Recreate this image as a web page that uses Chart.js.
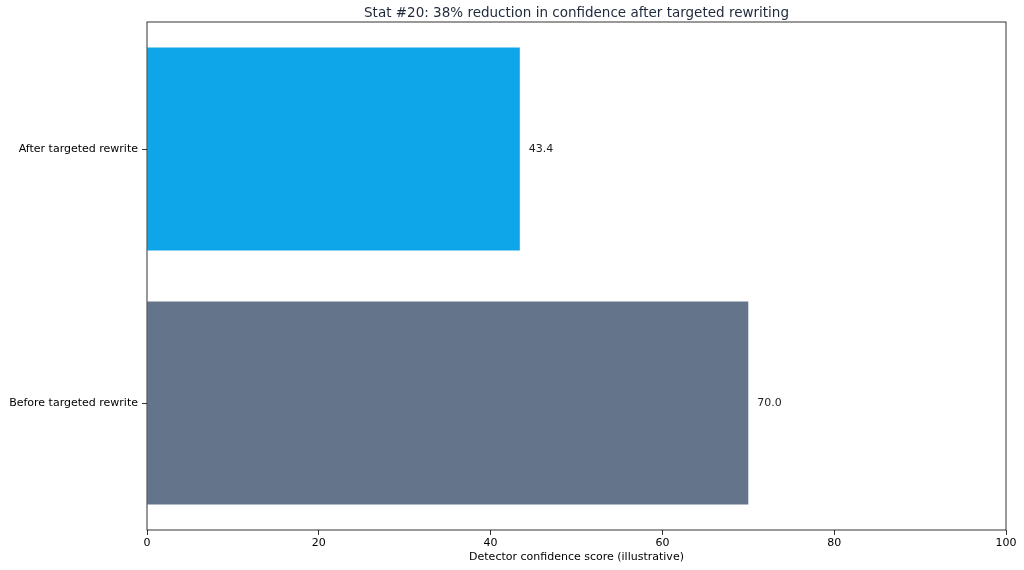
<!DOCTYPE html>
<html>
<head>
<meta charset="utf-8">
<script src="https://cdn.jsdelivr.net/npm/chart.js@4"></script>
<style>
  html, body { margin: 0; padding: 0; background: #fff; }
  #wrap { width: 1024px; height: 570px; }
</style>
</head>
<body>
<div id="wrap"><canvas id="myChart"></canvas></div>
<script>
const categories = ["After targeted rewrite", "Before targeted rewrite"];
const scores = [43.4, 70.0];
const barColors = ["#0ea5e9", "#64748b"];
const xTicks = [0, 20, 40, 60, 80, 100];
const titleText = "Stat #20: 38% reduction in confidence after targeted rewriting";
const xLabel = "Detector confidence score (illustrative)";

const FONT = "'DejaVu Sans', sans-serif";

// box around plot, title, value labels
const extras = {
  id: "extras",
  afterDraw(chart) {
    const c = chart.ctx;
    const a = chart.chartArea;
    c.save();
    c.strokeStyle = "#000";
    c.lineWidth = 0.8;
    c.strokeRect(a.left, a.top, a.right - a.left, a.bottom - a.top);

    c.fillStyle = "#1e293b";
    c.font = "13.5px " + FONT;
    c.textAlign = "center";
    c.textBaseline = "middle";
    c.fillText(titleText, (a.left + a.right) / 2, 13);

    c.fillStyle = "#222";
    c.font = "11px " + FONT;
    c.textAlign = "left";
    const meta = chart.getDatasetMeta(0);
    meta.data.forEach((bar, i) => {
      c.fillText(scores[i].toFixed(1), bar.x + 9, bar.y);
    });
    c.restore();
  }
};

new Chart(document.getElementById("myChart"), {
  type: "bar",
  data: {
    labels: categories,
    datasets: [{
      data: scores,
      backgroundColor: barColors,
      barPercentage: 0.8,
      categoryPercentage: 1.0,
    }],
  },
  options: {
    indexAxis: "y",
    responsive: true,
    maintainAspectRatio: false,
    animation: false,
    layout: { padding: { top: 22, right: 18, left: 0, bottom: 6 } },
    plugins: { legend: { display: false }, tooltip: { enabled: false } },
    scales: {
      x: {
        min: 0,
        max: 100,
        afterBuildTicks(axis) { axis.ticks = xTicks.map(v => ({ value: v })); },
        afterFit(axis) { axis.height = 34; },
        grid: { drawOnChartArea: false, tickLength: 5, color: "#000", lineWidth: 0.8 },
        border: { display: false },
        ticks: { color: "#000", font: { family: FONT, size: 11 }, padding: 2, maxRotation: 0 },
        title: { display: true, text: xLabel, color: "#000", font: { family: FONT, size: 11 }, padding: { top: 1, bottom: 0 } },
      },
      y: {
        afterFit(axis) { axis.width = 147; },
        grid: { drawOnChartArea: false, tickLength: 5, color: "#000", lineWidth: 0.8, offset: false },
        border: { display: false },
        ticks: { color: "#000", font: { family: FONT, size: 11 }, padding: 4 },
      },
    },
  },
  plugins: [extras],
});
</script>
</body>
</html>
